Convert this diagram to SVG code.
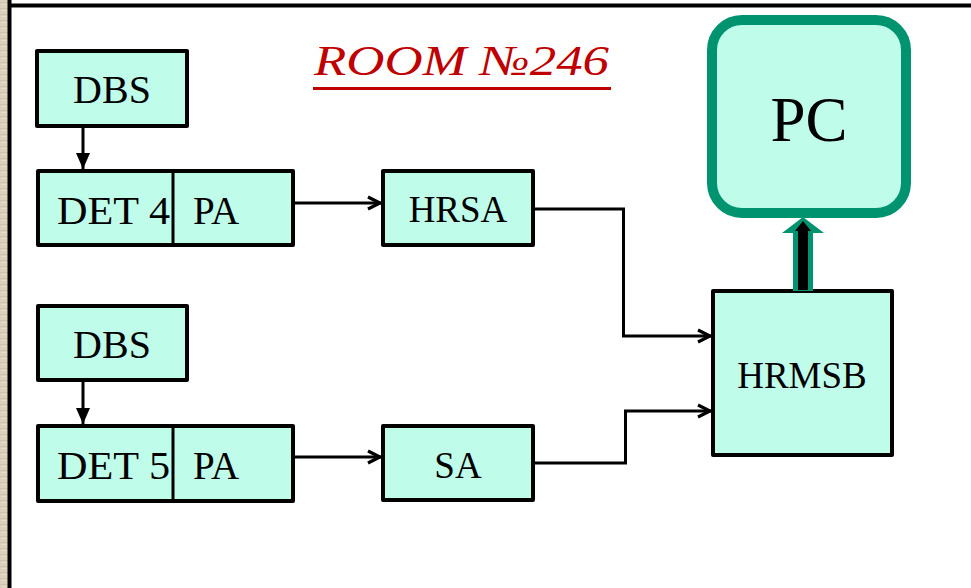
<svg xmlns="http://www.w3.org/2000/svg" width="971" height="588" viewBox="0 0 971 588">
<defs>
<pattern id="tex" width="8" height="6" patternUnits="userSpaceOnUse">
<rect width="8" height="6" fill="#dcd2bc"/>
<rect y="2" width="8" height="1" fill="#cfc3a8"/>
<rect x="2" y="4" width="5" height="1" fill="#e6ddca"/>
</pattern>
<marker id="tri" viewBox="0 0 16 14" refX="16" refY="7" markerWidth="16" markerHeight="14" markerUnits="userSpaceOnUse" orient="auto">
<path d="M0,0 L16,7 L0,14 Z" fill="#000"/>
</marker>
<marker id="open" viewBox="0 0 16 16" refX="15" refY="8" markerWidth="16" markerHeight="16" markerUnits="userSpaceOnUse" orient="auto">
<path d="M2,2 L14,8 L2,14" fill="none" stroke="#000" stroke-width="3.2" stroke-linejoin="miter"/>
</marker>
</defs>
<style>
.box{fill:#c0fcea;stroke:#000;stroke-width:4;stroke-linejoin:round}
.t{font-family:"Liberation Serif","Times New Roman",serif;fill:#000}
.c{fill:none;stroke:#000;stroke-width:3}
</style>
<rect width="971" height="588" fill="#fff"/>
<rect x="0" y="0" width="8" height="588" fill="url(#tex)"/>
<line x1="9.5" y1="0" x2="9.5" y2="588" stroke="#000" stroke-width="4"/>
<line x1="8" y1="5.5" x2="971" y2="5.5" stroke="#000" stroke-width="4"/>

<g id="title">
<text x="314" y="75" font-family="'Liberation Serif','Times New Roman',serif" font-size="43" font-style="italic" fill="#c00000" textLength="295" lengthAdjust="spacingAndGlyphs">ROOM №246</text>
<line x1="313" y1="88.5" x2="611" y2="88.5" stroke="#c00000" stroke-width="3"/>
</g>

<g id="dbs1">
<rect class="box" x="37" y="51" width="150" height="75"/>
<text class="t" x="112" y="103" font-size="40" text-anchor="middle">DBS</text>
</g>
<g id="det4">
<rect class="box" x="38" y="171" width="255" height="74"/>
<line x1="173" y1="171" x2="173" y2="245" stroke="#000" stroke-width="3"/>
<text class="t" x="57" y="224" font-size="40" textLength="113" lengthAdjust="spacingAndGlyphs">DET 4</text>
<text class="t" x="193" y="224" font-size="39">PA</text>
</g>
<g id="hrsa">
<rect class="box" x="383" y="171" width="150" height="74"/>
<text class="t" x="458" y="222" font-size="37" text-anchor="middle">HRSA</text>
</g>
<g id="dbs2">
<rect class="box" x="38" y="306" width="149" height="74"/>
<text class="t" x="112" y="358" font-size="40" text-anchor="middle">DBS</text>
</g>
<g id="det5">
<rect class="box" x="38" y="426" width="255" height="75"/>
<line x1="173" y1="426" x2="173" y2="501" stroke="#000" stroke-width="3"/>
<text class="t" x="57" y="479" font-size="40" textLength="113" lengthAdjust="spacingAndGlyphs">DET 5</text>
<text class="t" x="193" y="479" font-size="39">PA</text>
</g>
<g id="sa">
<rect class="box" x="383" y="426" width="150" height="74"/>
<text class="t" x="458" y="478" font-size="37" text-anchor="middle">SA</text>
</g>
<g id="hrmsb">
<rect class="box" x="713" y="291" width="179" height="164"/>
<text class="t" x="802" y="388" font-size="37" text-anchor="middle">HRMSB</text>
</g>
<g id="pc">
<rect x="712" y="20" width="194" height="193" rx="30" fill="#c0fcea" stroke="#009370" stroke-width="10"/>
<text class="t" x="809" y="141" font-size="63" text-anchor="middle">PC</text>
</g>

<g id="connectors">
<line class="c" x1="83" y1="127" x2="83" y2="169" marker-end="url(#tri)"/>
<line class="c" x1="83" y1="382" x2="83" y2="424" marker-end="url(#tri)"/>
<line class="c" x1="295" y1="203" x2="381" y2="203" marker-end="url(#open)"/>
<line class="c" x1="295" y1="457" x2="381" y2="457" marker-end="url(#open)"/>
<polyline class="c" points="535,209 623.5,209 623.5,336 711,336" marker-end="url(#open)"/>
<polyline class="c" points="535,463 625.5,463 625.5,411 711,411" marker-end="url(#open)"/>
<polygon points="793,291 793,233 782,233 803,217 824,233 813,233 813,291" fill="#009370"/>
<polygon points="798,290 798,231 795,231 803,221 811,231 808,231 808,290" fill="#000"/>
</g>
</svg>
